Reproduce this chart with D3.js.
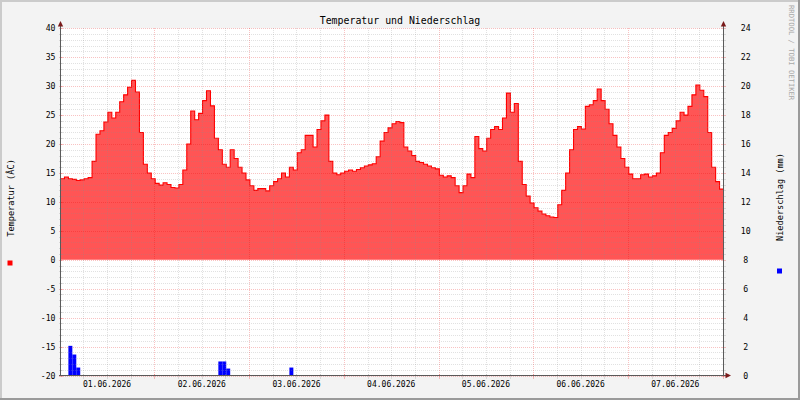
<!DOCTYPE html>
<html><head><meta charset="utf-8">
<script src="https://cdn.jsdelivr.net/npm/d3@7"></script>
<style>body{margin:0;background:#fff}svg{display:block}</style>
</head><body>
<svg id="chart" width="800" height="400"></svg>
<script>
// ---------- data ----------
const chartTitle = "Temperatur und Niederschlag";
const leftAxisTitle = "Temperatur (ÂC)";
const rightAxisTitle = "Niederschlag (mm)";
const watermark = "RRDTOOL / TOBI OETIKER";
const startTime = new Date(2026, 4, 31, 12, 12);
const spanHours = 168;
// hourly temperature (°C), one value per hour from startTime
const temperature = [
 14.0,14.3,14.0,13.9,13.7,13.8,14.0,14.2,17.0,21.7,22.3,23.8,25.5,24.5,25.5,27.3,
 28.5,29.8,31.0,29.0,22.0,16.5,15.0,14.0,13.2,12.9,13.3,13.0,12.5,12.4,13.0,15.5,
 20.0,25.7,24.2,25.3,27.5,29.2,26.6,21.0,19.0,16.5,16.0,19.0,17.5,16.0,15.0,13.8,
 12.8,12.0,12.3,12.3,11.9,12.8,13.5,14.0,15.0,14.3,16.0,15.5,18.5,19.0,21.5,21.5,
 19.5,22.5,24.0,25.0,17.0,15.0,14.7,15.0,15.3,15.5,15.3,15.6,15.9,16.2,16.4,16.6,
 17.8,20.5,22.0,22.8,23.5,23.9,23.7,19.5,18.8,18.0,17.0,16.8,16.5,16.2,15.9,15.7,
 14.6,14.3,14.5,14.2,12.8,11.6,12.8,14.8,14.2,21.3,19.2,18.8,21.0,22.5,23.0,22.5,
 24.5,28.8,25.5,27.0,17.0,13.0,11.0,9.8,9.0,8.4,7.9,7.6,7.4,7.3,9.5,12.0,
 15.0,19.0,22.5,23.0,22.6,26.5,26.8,27.5,29.5,27.5,26.0,23.5,21.5,19.5,17.5,16.0,
 14.8,14.0,14.0,14.7,14.8,14.3,14.5,15.0,18.5,21.5,22.0,22.7,24.0,25.5,25.0,26.5,
 28.5,30.2,29.3,28.2,22.0,16.0,13.5,12.2,12.0
];
// precipitation (mm) per hour index
const rainHours  = [2, 3, 4, 40, 41, 42, 58];
const rainValues = [2.05, 1.45, 0.55, 0.97, 0.97, 0.48, 0.55];
const tempTicks = [-20,-15,-10,-5,0,5,10,15,20,25,30,35,40];
const rainTicks = [0,2,4,6,8,10,12,14,16,18,20,22,24];
const dayLabels = ["01.06.2026","02.06.2026","03.06.2026","04.06.2026","05.06.2026","06.06.2026","07.06.2026"];

// ---------- layout ----------
const W = 800, H = 400;
const L = 60.5, R = 723.5, T = 28.3, B = 375.5;
const mono = "'DejaVu Sans Mono', monospace";
const gridMinor = "rgba(140,140,140,0.26)";
const gridMajor = "rgba(230,0,0,0.24)";
const axisCol = "#5a5a5a";
const arrowCol = "#7a1a1a";

const svg = d3.select("#chart");
const hour = 3600 * 1000;
const endTime = new Date(+startTime + spanHours * hour);
const x = d3.scaleTime().domain([startTime, endTime]).range([L, R]);
const yT = d3.scaleLinear().domain([-20, 40]).range([B, T]);
const yR = d3.scaleLinear().domain([0, 24]).range([B, T]);

// background + 3D border
svg.append("rect").attr("width", W).attr("height", H).attr("fill", "#f3f3f3");
svg.append("rect").attr("x",0).attr("y",0).attr("width",W).attr("height",2).attr("fill","#cbcbcb");
svg.append("rect").attr("x",0).attr("y",0).attr("width",2).attr("height",H).attr("fill","#cbcbcb");
svg.append("rect").attr("x",0).attr("y",H-2).attr("width",W).attr("height",2).attr("fill","#9a9a9a");
svg.append("rect").attr("x",W-2).attr("y",0).attr("width",2).attr("height",H).attr("fill","#9a9a9a");

// plot background
svg.append("rect").attr("x", L).attr("y", T).attr("width", R - L).attr("height", B - T).attr("fill", "#fff");

// temperature area + line
const tData = temperature.map((v, i) => ({ t: new Date(+startTime + i * hour), v }));
const area = d3.area().curve(d3.curveStepAfter).x(d => x(d.t)).y0(yT(0)).y1(d => yT(d.v));
const line = d3.line().curve(d3.curveStepAfter).x(d => x(d.t)).y(d => yT(d.v));
svg.append("path").datum(tData).attr("d", area).attr("fill", "#ff5555");
svg.append("path").datum(tData).attr("d", line).attr("fill", "none").attr("stroke", "#ff0000").attr("stroke-width", 1.1);

// rain bars
const rData = rainHours.map((h, i) => ({ t0: new Date(+startTime + h * hour), t1: new Date(+startTime + (h + 1) * hour), v: rainValues[i] }));
svg.append("g").selectAll("rect").data(rData).join("rect")
  .attr("x", d => x(d.t0)).attr("width", d => x(d.t1) - x(d.t0))
  .attr("y", d => yR(d.v)).attr("height", d => yR(0) - yR(d.v))
  .attr("fill", "#0000ff");

// grid
const g = svg.append("g").attr("shape-rendering", "crispEdges");
const minorT = d3.range(-20, 41, 1);
minorT.forEach(v => {
  const yy = Math.round(yT(v)) + 0.5;
  const major = v % 5 === 0;
  g.append("line").attr("x1", L).attr("x2", R).attr("y1", yy).attr("y2", yy)
    .attr("stroke", major ? gridMajor : gridMinor).attr("stroke-dasharray", "1,1");
  [L, R].forEach(ax => g.append("line").attr("x1", ax - 2).attr("x2", ax + 2).attr("y1", yy).attr("y2", yy)
    .attr("stroke", major ? gridMajor : gridMinor));
});
const sixHours = d3.timeHour.every(6).range(startTime, endTime);
sixHours.forEach(d => {
  const xx = Math.round(x(d)) + 0.5;
  const major = d.getHours() === 12;
  g.append("line").attr("x1", xx).attr("x2", xx).attr("y1", T).attr("y2", B)
    .attr("stroke", major ? gridMajor : gridMinor).attr("stroke-dasharray", "1,1");
  g.append("line").attr("x1", xx).attr("x2", xx).attr("y1", B - 2).attr("y2", B + 3)
    .attr("stroke", major ? gridMajor : gridMinor);
});

// axes
g.append("line").attr("x1", L).attr("x2", L).attr("y1", B).attr("y2", 24).attr("stroke", axisCol);
g.append("line").attr("x1", R).attr("x2", R).attr("y1", B).attr("y2", 24).attr("stroke", axisCol);
g.append("line").attr("x1", L - 2).attr("x2", 727).attr("y1", B).attr("y2", B).attr("stroke", axisCol);
const tri = (pts) => svg.append("path").attr("d", "M" + pts.map(p => p.join(",")).join("L") + "Z").attr("fill", arrowCol);
tri([[L, 21], [L - 2.7, 26.5], [L + 2.7, 26.5]]);
tri([[R, 21], [R - 2.7, 26.5], [R + 2.7, 26.5]]);
tri([[731, B], [725.5, B - 2.7], [725.5, B + 2.7]]);

// left tick labels
svg.append("g").selectAll("text").data(tempTicks).join("text")
  .attr("x", 55.5).attr("y", d => yT(d) + 3)
  .attr("text-anchor", "end").attr("font-family", mono).attr("font-size", 8.2).attr("fill", "#000")
  .text(d => d);
// right tick labels
svg.append("g").selectAll("text").data(rainTicks).join("text")
  .attr("x", 745.8).attr("y", d => yR(d) + 3)
  .attr("text-anchor", "middle").attr("font-family", mono).attr("font-size", 8.2).attr("fill", "#000")
  .text(d => d);
// x labels
const parseDay = d3.timeParse("%d.%m.%Y");
svg.append("g").selectAll("text").data(dayLabels).join("text")
  .attr("x", d => x(parseDay(d))).attr("y", 386.5)
  .attr("text-anchor", "middle").attr("font-family", mono).attr("font-size", 8).attr("fill", "#000")
  .text(d => d);

// title
svg.append("text").attr("x", 400).attr("y", 24).attr("text-anchor", "middle")
  .attr("font-family", mono).attr("font-size", 9.9).attr("fill", "#000").text(chartTitle);

// axis titles
svg.append("text").attr("transform", "translate(13.5,198) rotate(-90)").attr("text-anchor", "middle")
  .attr("font-family", mono).attr("font-size", 8.6).attr("fill", "#000").text(leftAxisTitle);
svg.append("text").attr("transform", "translate(783,197) rotate(-90)").attr("text-anchor", "middle")
  .attr("font-family", mono).attr("font-size", 8.6).attr("fill", "#000").text(rightAxisTitle);

// legend squares
svg.append("rect").attr("x", 7.5).attr("y", 260.5).attr("width", 5).attr("height", 5).attr("fill", "#ff0000");
svg.append("rect").attr("x", 777).attr("y", 268.5).attr("width", 5).attr("height", 5).attr("fill", "#0000ff");

// watermark
svg.append("text").attr("transform", "translate(789,5) rotate(90)").attr("text-anchor", "start")
  .attr("font-family", mono).attr("font-size", 7.2).attr("fill", "#a8a8a8").text(watermark);
</script>
</body></html>
